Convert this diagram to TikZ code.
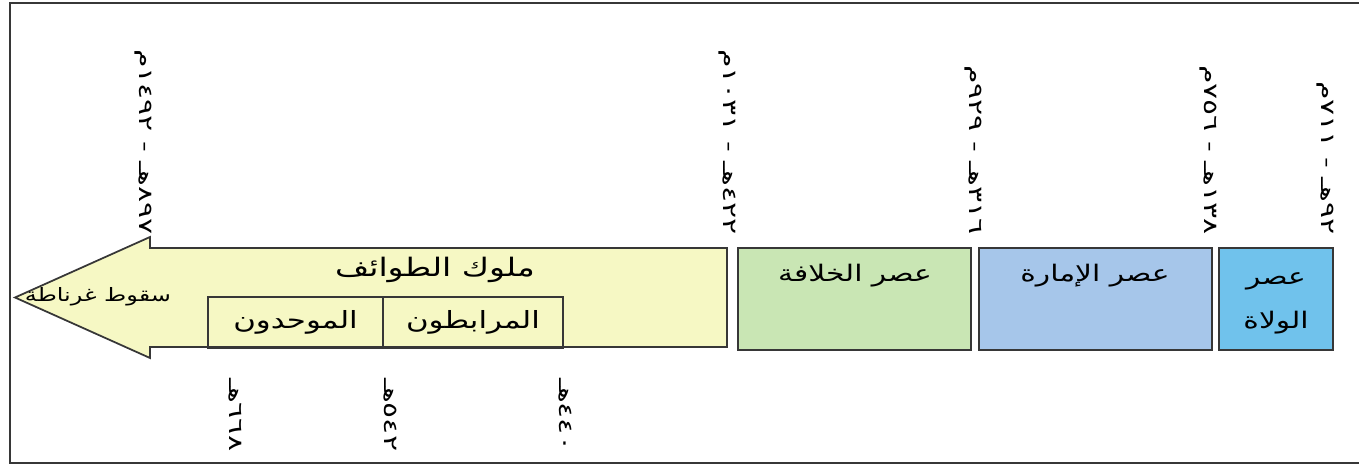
\documentclass[tikz,border=0pt]{standalone}
\usepackage{fontspec}
\newfontfamily\arabicfont[Script=Arabic,FakeStretch=1.3]{DejaVu Sans}
\newfontfamily\datefont[Script=Arabic,FakeStretch=1.55]{DejaVu Sans}
\TeXXeTstate=1
\usetikzlibrary{positioning}

\definecolor{taifa}{RGB}{246,248,196}
\definecolor{khilafa}{RGB}{201,230,180}
\definecolor{imara}{RGB}{166,198,234}
\definecolor{wulat}{RGB}{112,194,236}
\definecolor{edge}{RGB}{55,55,55}

\newcommand{\artxt}[1]{\arabicfont\beginR #1\endR}
\newcommand{\dttxt}[1]{\datefont\beginR #1\endR}

\begin{document}
\begin{tikzpicture}[
x=0.02cm,
y=-0.02cm,
era/.style={
  draw=edge,
  line width=1pt,
  minimum height=2.04cm,
  inner sep=0pt
  },
dyn/.style={
  draw=edge,
  line width=1pt,
  minimum height=1.02cm,
  inner sep=0pt,
  font=\fontsize{13.5}{15}\selectfont
  },
eraname/.style={
  font=\fontsize{13}{25}\selectfont,
  align=center,
  inner sep=0pt
  },
datelabel/.style={
  rotate=-90,
  inner sep=0pt,
  font=\fontsize{11}{13}\selectfont
  }
]
\useasboundingbox (0,0) rectangle (1359,465);
\draw[edge, line width=1pt] (1359,3) -- (10,3) -- (10,463) -- (1359,463);

% arrow of the taifa period
\draw[edge, line width=1pt, fill=taifa]
  (727,248) -- (150,248) -- (150,237) -- (15,297.5)
  -- (150,358) -- (150,347) -- (727,347) -- cycle;
\coordinate (tip) at (15,297.5);

\node[dyn, minimum width=3.5cm] (muwahhidun) at (295.5,322.5) {\artxt{الموحدون}};
\node[dyn, minimum width=3.6cm] (murabitun) at (473,322.5) {\artxt{المرابطون}};

\node[eraname, font=\fontsize{14.5}{16}\selectfont] (taifa) at (435,270) {\artxt{ملوك الطوائف}};
\node[eraname, font=\fontsize{10.5}{13}\selectfont] (granada) at (98,297) {\artxt{سقوط غرناطة}};

% the three ages
\node[era, fill=khilafa, minimum width=4.66cm] (khilafa) at (854.5,299) {};
\node[era, fill=imara, minimum width=4.66cm] (imara) at (1095.5,299) {};
\node[era, fill=wulat, minimum width=2.28cm] (wulat) at (1276,299) {};

\node[eraname] (khilafa-t) at (855,276) {\artxt{عصر الخلافة}};
\node[eraname] (imara-t) at (1095,276) {\artxt{عصر الإمارة}};
\node[eraname] (wulat-t) at (1276,303) {\artxt{عصر}\\\artxt{الولاة}};

% dates
\foreach \px/\dt [count=\i] in {143/{٨٩٧هـ - ١٤٩٢م},727/{٤٢٢هـ - ١٠٣١م},973/{٣١٦هـ - ٩٢٩م},1208/{١٣٨هـ - ٧٥٦م},1325/{٩٢هـ - ٧١١م}}
{
  \node[datelabel, anchor=east] (top-\i) at (\px,235) {\dttxt{\dt}};
}
\foreach \px/\dt [count=\i] in {235/{٦٦٨هـ},390/{٥٤٢هـ},565/{٤٤٠هـ}}
{
  \node[datelabel, anchor=west] (bottom-\i) at (\px,378) {\dttxt{\dt}};
}

\end{tikzpicture}
\end{document}
